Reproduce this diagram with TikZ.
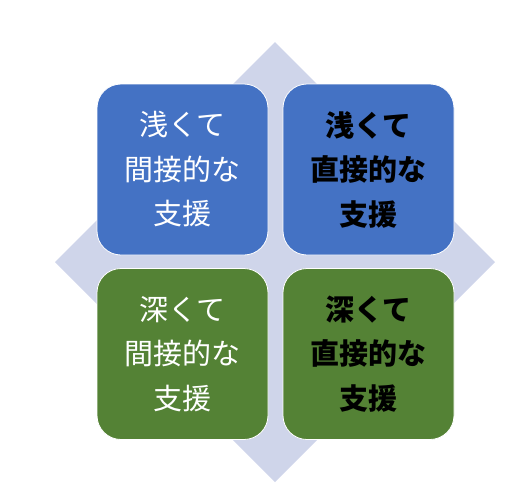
\documentclass[tikz,border=0pt]{standalone}
\usepackage{fontspec}
\newfontfamily\cjk{Noto Sans CJK JP}
\begin{document}
\begin{tikzpicture}[x=1pt,y=-1pt,
  quad/.style={draw=white,line width=0.8pt,rounded corners=24pt,minimum width=171pt,minimum height=171pt,inner sep=0pt,align=center,font=\cjk\fontsize{29}{44.5}\selectfont},
  bluebox/.style={quad,fill=blueq,text=white},
  greenbox/.style={quad,fill=greenq},
  boldtext/.style={text=black,font=\cjk\bfseries\fontsize{29}{44.5}\selectfont}]
\definecolor{blueq}{HTML}{4472C4}
\definecolor{greenq}{HTML}{548235}
\definecolor{diam}{HTML}{CFD5EA}
\useasboundingbox (0,0) rectangle (523,488);
\fill[diam] (275,42) -- (495,262) -- (275,482) -- (55,262) -- cycle;
\node[bluebox] (tl) at (182.5,169.5) {浅くて\\間接的な\\支援};
\node[bluebox,boldtext] (tr) at (368.5,169.5) {浅くて\\直接的な\\支援};
\node[greenbox,text=white] (bl) at (182.5,354) {深くて\\間接的な\\支援};
\node[greenbox,boldtext] (br) at (368.5,354) {深くて\\直接的な\\支援};
\end{tikzpicture}
\end{document}
